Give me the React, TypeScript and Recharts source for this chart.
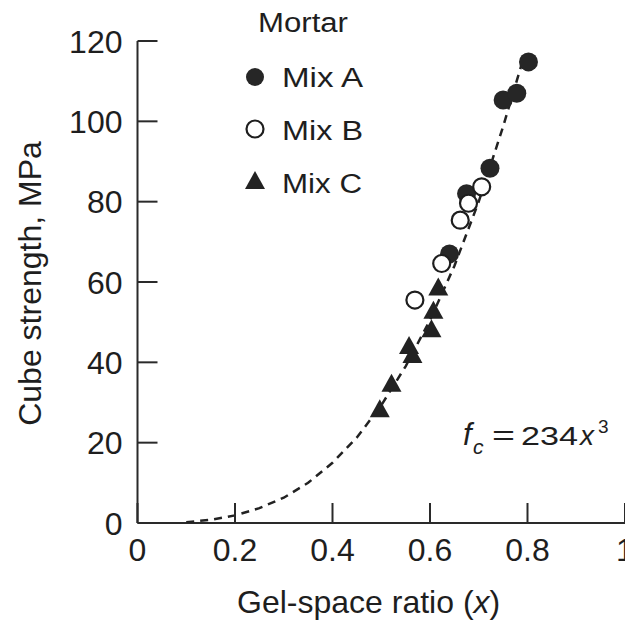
import React from 'react';
import { ScatterChart, Scatter, XAxis, YAxis, Legend, Customized, Label } from 'recharts';

// ---- data ----
const xTicks = [0, 0.2, 0.4, 0.6, 0.8, 1];
const xTickLabels = ['0', '0.2', '0.4', '0.6', '0.8', '1'];
const yTicks = [0, 20, 40, 60, 80, 100, 120];

const mixAX = [0.64, 0.675, 0.723, 0.75, 0.778, 0.802];
const mixAY = [67, 82, 88.3, 105.3, 107, 114.8];

const mixBX = [0.569, 0.624, 0.662, 0.679, 0.706];
const mixBY = [55.5, 64.6, 75.4, 79.6, 83.7];

const mixCX = [0.497, 0.521, 0.557, 0.564, 0.603, 0.607, 0.617];
const mixCY = [28.1, 34.4, 43.8, 41.6, 48, 52.6, 58.4];

const curveX = [0.1, 0.15, 0.2, 0.25, 0.3, 0.35, 0.4, 0.45, 0.5, 0.55, 0.6, 0.65, 0.7, 0.75, 0.79];
const curveY = [0.2, 0.8, 1.9, 3.7, 6.3, 10, 15, 21.3, 29.3, 39, 50.5, 64, 80, 98.7, 115];

const legendTitle = 'Mortar';
const seriesNames = ['Mix A', 'Mix B', 'Mix C'];

const toPts = (xs: number[], ys: number[]) => xs.map((x, i) => ({ x, y: ys[i] }));
const mixA = toPts(mixAX, mixAY);
const mixB = toPts(mixBX, mixBY);
const mixC = toPts(mixCX, mixCY);
const curve = toPts(curveX, curveY);

const FONT = '"Liberation Sans", Arial, Helvetica, sans-serif';
const INK = '#1e1e1e';
const AXIS = '#2a2a2a';

const FilledCircle = (p: any) => (
  <circle cx={p.cx} cy={p.cy} r={9.5} fill="#262626" />
);
const OpenCircle = (p: any) => (
  <circle cx={p.cx} cy={p.cy} r={8.5} fill="#fff" stroke="#1e1e1e" strokeWidth={2.2} />
);
const Triangle = (p: any) => (
  <path d={`M${p.cx},${p.cy - 11} L${p.cx + 10},${p.cy + 7} L${p.cx - 10},${p.cy + 7} Z`} fill="#222" />
);
const NoShape = () => null;

const YTick = (props: any) => {
  const { x, y, payload } = props;
  return (
    <g>
      <line x1={x} x2={x + 20} y1={y} y2={y} stroke={AXIS} strokeWidth={2} />
      <text x={x - 15} y={y} dy="0.36em" textAnchor="end" fontSize={32} fontFamily={FONT} fill={INK}>
        {payload.value}
      </text>
    </g>
  );
};

const XTick = (props: any) => {
  const { x, y, payload } = props;
  const idx = xTicks.indexOf(payload.value);
  return (
    <g>
      <line x1={x} x2={x} y1={y - 20} y2={y} stroke={AXIS} strokeWidth={2} />
      <text x={x} y={y + 38} textAnchor="middle" fontSize={32} fontFamily={FONT} fill={INK}>
        {idx >= 0 ? xTickLabels[idx] : payload.value}
      </text>
    </g>
  );
};

const LegendContent = () => (
  <svg width={220} height={210} style={{ display: 'block' }}>
    <text x={28} y={32} fontSize={27} fontFamily={FONT} fill={INK} textLength={90} lengthAdjust="spacingAndGlyphs">
      {legendTitle}
    </text>
    <circle cx={25} cy={77} r={9} fill="#262626" />
    <text x={52} y={87} fontSize={27} fontFamily={FONT} fill={INK} textLength={81} lengthAdjust="spacingAndGlyphs">
      {seriesNames[0]}
    </text>
    <circle cx={25} cy={129} r={8.5} fill="#fff" stroke="#1e1e1e" strokeWidth={2.2} />
    <text x={52} y={140} fontSize={27} fontFamily={FONT} fill={INK} textLength={81} lengthAdjust="spacingAndGlyphs">
      {seriesNames[1]}
    </text>
    <path d="M25,171 L35,189 L15,189 Z" fill="#222" />
    <text x={52} y={193} fontSize={27} fontFamily={FONT} fill={INK} textLength={80} lengthAdjust="spacingAndGlyphs">
      {seriesNames[2]}
    </text>
  </svg>
);

const Equation = () => (
  <g fontFamily={FONT} fill={INK}>
    <text x={463} y={445} fontSize={31} fontStyle="italic">f</text>
    <text x={473} y={454} fontSize={21} fontStyle="italic">c</text>
    <text x={492} y={445} fontSize={28} textLength={23} lengthAdjust="spacingAndGlyphs">=</text>
    <text x={521} y={445} fontSize={26} textLength={57} lengthAdjust="spacingAndGlyphs">234</text>
    <text x={580} y={445} fontSize={28} fontStyle="italic">x</text>
    <text x={598} y={433} fontSize={19}>3</text>
  </g>
);

const XLabel = () => (
  <text x={237} y={613} fontSize={32} fontFamily={FONT} fill={INK}>
    Gel-space ratio (<tspan fontStyle="italic">x</tspan>)
  </text>
);

const YLabel = () => (
  <text
    x={41}
    y={283.5}
    transform="rotate(-90 41 283.5)"
    textAnchor="middle"
    fontSize={32}
    fontFamily={FONT}
    fill={INK}
  >
    Cube strength, MPa
  </text>
);

export default function App() {
  return (
    <div style={{ position: 'fixed', left: 0, top: 0, width: 625, height: 623, overflow: 'hidden', background: '#fff' }}>
      <ScatterChart width={640} height={623} margin={{ top: 41, right: 15, bottom: 0, left: 0 }}>
        <XAxis
          type="number"
          dataKey="x"
          domain={[0, 1]}
          ticks={xTicks}
          height={100}
          tickSize={0}
          tickMargin={0}
          tickLine={false}
          tick={<XTick />}
          axisLine={{ stroke: AXIS, strokeWidth: 2 }}
          interval={0}
          allowDataOverflow
        >
          <Label content={<XLabel />} />
        </XAxis>
        <YAxis
          type="number"
          dataKey="y"
          domain={[0, 120]}
          ticks={yTicks}
          width={137.5}
          tickSize={0}
          tickMargin={0}
          tickLine={false}
          tick={<YTick />}
          axisLine={{ stroke: AXIS, strokeWidth: 2 }}
          interval={0}
          allowDataOverflow
        >
          <Label content={<YLabel />} />
        </YAxis>
        <Legend
          layout="vertical"
          align="center"
          verticalAlign="middle"
          content={<LegendContent />}
          wrapperStyle={{ left: 230, top: 0, width: 220, height: 210 }}
        />
        <Scatter
          name="fit"
          data={curve}
          shape={<NoShape />}
          line={{ stroke: '#222', strokeWidth: 2.5, strokeDasharray: '8 6' }}
          lineType="joint"
          isAnimationActive={false}
          legendType="none"
        />
        <Scatter name={seriesNames[0]} data={mixA} shape={<FilledCircle />} isAnimationActive={false} />
        <Scatter name={seriesNames[1]} data={mixB} shape={<OpenCircle />} isAnimationActive={false} />
        <Scatter name={seriesNames[2]} data={mixC} shape={<Triangle />} isAnimationActive={false} />
        <Customized component={<Equation />} />
      </ScatterChart>
    </div>
  );
}
